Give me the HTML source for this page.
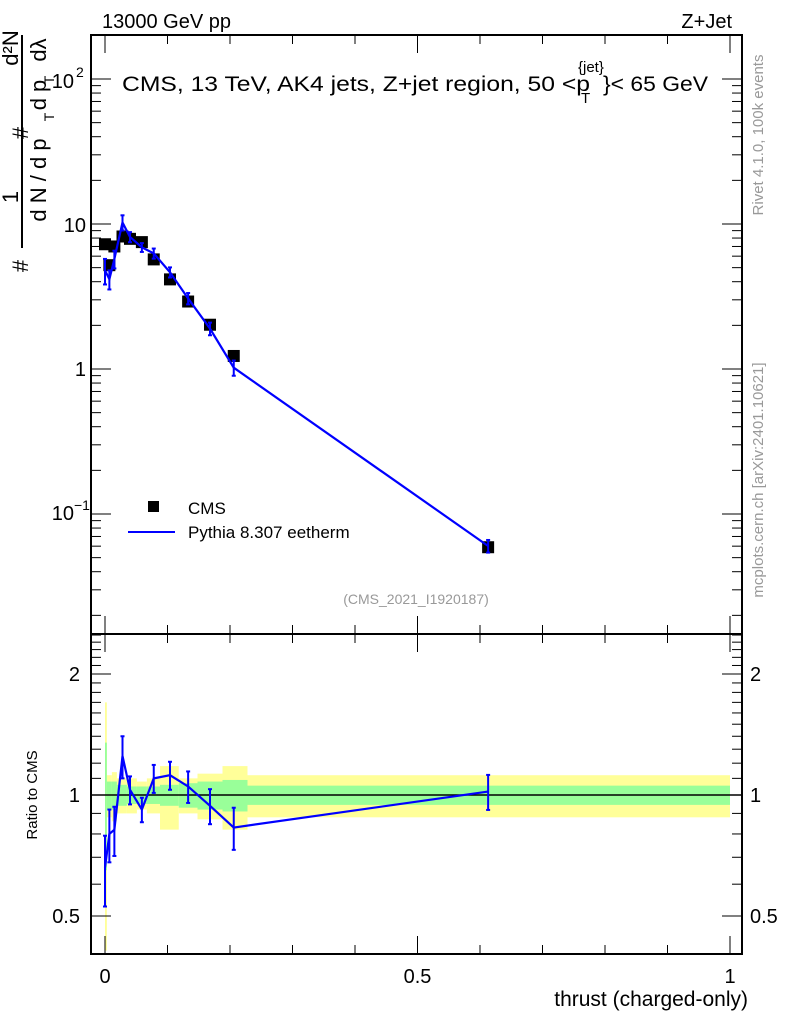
<!DOCTYPE html>
<html><head><meta charset="utf-8"><style>
body{margin:0;background:#fff;}
svg{display:block;font-family:"Liberation Sans",sans-serif;}
</style></head><body>
<svg id="c" width="786" height="1024" xmlns="http://www.w3.org/2000/svg"></svg>
<script>
const xVals=[0,0.007,0.015,0.028,0.040,0.059,0.078,0.104,0.133,0.168,0.206,0.613];
const cmsVals=[7.25,5.2,7.0,8.2,7.9,7.5,5.7,4.15,2.92,2.02,1.23,0.059];
const ratioVals=[0.66,0.80,0.82,1.25,1.03,0.92,1.10,1.12,1.05,0.94,0.83,1.02];
const mcRelErr=[0.2,0.15,0.14,0.12,0.08,0.07,0.08,0.08,0.09,0.1,0.12,0.1];
const binEdges=[0,0.003,0.011,0.019,0.035,0.051,0.067,0.088,0.118,0.148,0.188,0.228,1.0];
const yellowErr=[0.7,0.12,0.14,0.1,0.1,0.08,0.1,0.18,0.1,0.13,0.18,0.12];
const greenErr=[0.35,0.08,0.08,0.06,0.05,0.05,0.05,0.06,0.07,0.08,0.09,0.055];
const xTicks=[0,0.5,1];
const xTickLabels=["0","0.5","1"];

const svg=document.getElementById('c');
const NS="http://www.w3.org/2000/svg";
const L=91,R=742,T=35,MID=634,B=954;
const X=v=>105+v*625;
const Y=v=>369-Math.log10(v)*145;
const RY=v=>795-Math.log10(v)*402;
function el(tag,attrs,name,text){const e=document.createElementNS(NS,tag);for(const k in attrs)e.setAttribute(k,attrs[k]);


if(text!==undefined)e.textContent=text;svg.appendChild(e);return e;}
function line(x1,y1,x2,y2,n,c,w){return el('line',{x1,y1,x2,y2,stroke:c||'#000','stroke-width':w||1},n);}
function txt(x,y,s,n,o){return el('text',Object.assign({x,y,'font-size':20},o||{}),n,s);}

for(let i=0;i<yellowErr.length;i++){
  const x1=X(binEdges[i]),x2=X(binEdges[i+1]);
  el('rect',{x:x1,y:RY(1+yellowErr[i]),width:x2-x1,height:RY(Math.max(1-yellowErr[i],0.41))-RY(1+yellowErr[i]),fill:'#ffff99'},'band-yellow');
}
for(let i=0;i<greenErr.length;i++){
  const x1=X(binEdges[i]),x2=X(binEdges[i+1]);
  el('rect',{x:x1,y:RY(1+greenErr[i]),width:x2-x1,height:RY(1-greenErr[i])-RY(1+greenErr[i]),fill:'#99ff99'},'band-green');
}
line(L,RY(1),R,RY(1),'ratio-unity-line','#000',1.5);

el('rect',{x:L,y:T,width:R-L,height:MID-T,fill:'none',stroke:'#000','stroke-width':2},'main-frame');
el('rect',{x:L,y:MID,width:R-L,height:B-MID,fill:'none',stroke:'#000','stroke-width':2},'ratio-frame');

for(let i=0;i<xTicks.length;i++){
  const x=X(xTicks[i]);
  line(x,T,x,T+18,'x-major-tick');line(x,MID,x,MID-18,'x-major-tick');
  line(x,MID,x,MID+18,'x-major-tick');line(x,B,x,B-18,'x-major-tick');
  txt(x,983,xTickLabels[i],'x-tick-label',{'text-anchor':'middle'});
}
for(let v=0.1;v<1;v+=0.1){if(Math.abs(v-0.5)<1e-6)continue;const x=X(v);
  line(x,T,x,T+9,'x-minor-tick');line(x,MID,x,MID-9,'x-minor-tick');line(x,MID,x,MID+9,'x-minor-tick');line(x,B,x,B-9,'x-minor-tick');}

for(let d=-2;d<=2;d++){for(let m=1;m<10;m++){const v=m*Math.pow(10,d);const y=Y(v);if(y<T||y>MID)continue;
  const len=m===1?20:10;line(L,y,L+len,y,'y-tick');line(R,y,R-len,y,'y-tick');}}
txt(86,376,'1','y-tick-label',{'text-anchor':'end'});
txt(86,232,'10','y-tick-label',{'text-anchor':'end'});
txt(86,88,'10','y-tick-label',{'text-anchor':'end','dx':'-12'});
txt(76,77,'2','y-tick-exp',{'font-size':14});
txt(74,520,'10','y-tick-label',{'text-anchor':'end'});
txt(74,510,'−1','y-tick-exp',{'font-size':14});

for(let v=0.4;v<=2.5001;v+=0.1){const y=RY(v);if(y<MID||y>B)continue;const major=[0.5,1,2].some(q=>Math.abs(q-v)<1e-6);
  const len=major?20:10;line(L,y,L+len,y,'ratio-y-tick');line(R,y,R-len,y,'ratio-y-tick');}
[[0.5,'0.5'],[1,'1'],[2,'2']].forEach(([v,s])=>{txt(80,RY(v)+7,s,'ratio-y-tick-label',{'text-anchor':'end'});txt(750,RY(v)+7,s,'ratio-y-tick-label-right');});

for(let i=0;i<xVals.length;i++){el('rect',{x:X(xVals[i])-6,y:Y(cmsVals[i])-6,width:12,height:12,fill:'#000'},'cms-point');}
const mc=cmsVals.map((v,i)=>v*ratioVals[i]);
el('polyline',{points:xVals.map((x,i)=>X(x)+','+Y(mc[i])).join(' '),fill:'none',stroke:'#0000ff','stroke-width':2.2},'pythia-line');
for(let i=0;i<xVals.length;i++){const x=X(xVals[i]);const y1=Y(mc[i]*(1+mcRelErr[i])),y2=Y(mc[i]*(1-mcRelErr[i]));
  line(x,y1,x,y2,'pythia-error-bar','#0000ff',2);line(x-2,y1,x+2,y1,'pythia-error-cap','#0000ff',2);line(x-2,y2,x+2,y2,'pythia-error-cap','#0000ff',2);}
el('polyline',{points:xVals.map((x,i)=>X(x)+','+RY(ratioVals[i])).join(' '),fill:'none',stroke:'#0000ff','stroke-width':2.2},'ratio-line');
for(let i=0;i<xVals.length;i++){const x=X(xVals[i]);const y1=RY(ratioVals[i]*(1+mcRelErr[i])),y2=RY(ratioVals[i]*(1-mcRelErr[i]));
  line(x,y1,x,y2,'ratio-error-bar','#0000ff',2);line(x-2,y1,x+2,y1,'ratio-error-cap','#0000ff',2);line(x-2,y2,x+2,y2,'ratio-error-cap','#0000ff',2);}

txt(102,28,'13000 GeV pp','header-left');
txt(732,28,'Z+Jet','header-right',{'text-anchor':'end'});
txt(122,91,'CMS, 13 TeV, AK4 jets, Z+jet region, 50 <p','plot-title',{'font-size':21,textLength:468,lengthAdjust:'spacingAndGlyphs'});
txt(578,72,'{jet}','plot-title-sup',{'font-size':15});
txt(581,103,'T','plot-title-sub',{'font-size':15});
txt(603,91,'}< 65 GeV','plot-title-end',{'font-size':21,textLength:105,lengthAdjust:'spacingAndGlyphs'});
el('rect',{x:148,y:501,width:11,height:11,fill:'#000'},'legend-cms-marker');
txt(188,514,'CMS','legend-cms-label',{'font-size':17});
line(128,532,175,532,'legend-pythia-line','#0000ff',2);
txt(188,538,'Pythia 8.307 eetherm','legend-pythia-label',{'font-size':17});
txt(416,604,'(CMS_2021_I1920187)','analysis-id',{'font-size':14,fill:'#999','text-anchor':'middle'});
txt(748,1006,'thrust (charged-only)','x-axis-title',{'text-anchor':'end','font-size':21});
txt(0,0,'Ratio to CMS','ratio-y-title',{'font-size':15,'text-anchor':'middle',transform:'translate(37,795) rotate(-90)'});
function rt(x,y,s,n,fs){return txt(0,0,s,n,{'font-size':fs||22,'text-anchor':'middle',transform:`translate(${x},${y}) rotate(-90)`});}
rt(28,266,'#','y-title-hash-1');
rt(18,197,'1','y-title-one');
line(22,35,22,248,'y-title-fraction-bar','#000',2);
rt(46,180,'d N / d p','y-title-denominator-1');
rt(54,117,'T','y-title-sub-1',14);
rt(28,133,'#','y-title-hash-2');
rt(18,48,'d²N','y-title-numerator');
rt(46,95,'d p','y-title-denominator-2');
rt(54,80,'T','y-title-sub-2',14);
rt(46,50,'dλ','y-title-dlambda');
txt(0,0,'Rivet 4.1.0,  100k events','rivet-label',{'font-size':15,fill:'#999','text-anchor':'middle',transform:'translate(763,135) rotate(-90)'});
txt(0,0,'mcplots.cern.ch [arXiv:2401.10621]','mcplots-label',{'font-size':15,fill:'#999','text-anchor':'middle',transform:'translate(763,480) rotate(-90)'});
</script>
</body></html>
